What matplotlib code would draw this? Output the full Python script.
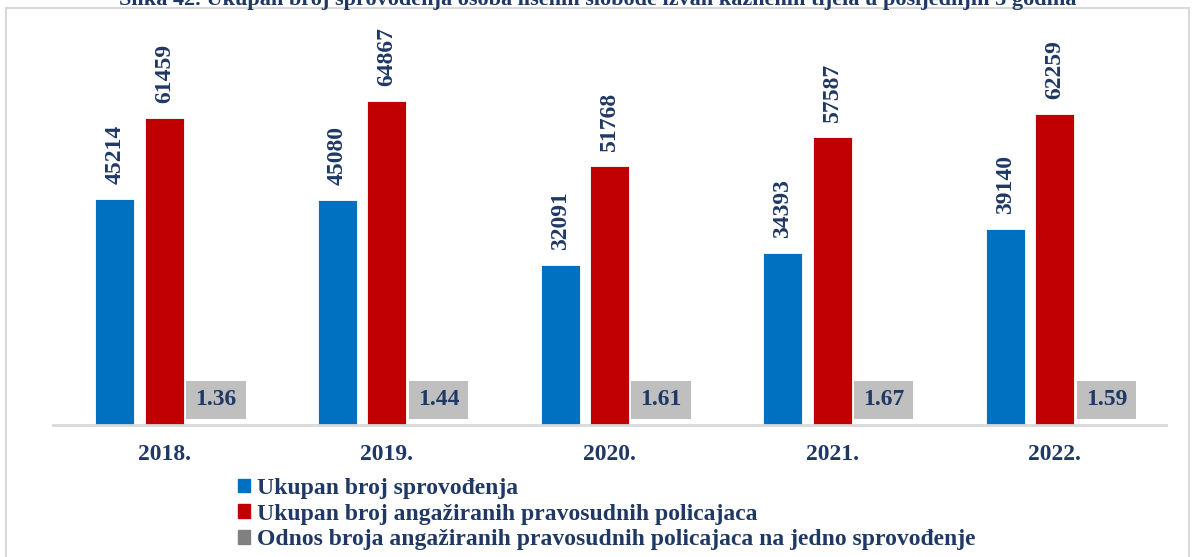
import matplotlib
matplotlib.use('Agg')
import matplotlib.pyplot as plt
import numpy as np
from matplotlib.patches import Rectangle

years = ['2018.', '2019.', '2020.', '2021.', '2022.']
sprovodjenja = [45214, 45080, 32091, 34393, 39140]
policajci = [61459, 64867, 51768, 57587, 62259]
odnos = [1.36, 1.44, 1.61, 1.67, 1.59]

series_names = ['Ukupan broj sprovođenja',
                'Ukupan broj angažiranih pravosudnih policajaca',
                'Odnos broja angažiranih pravosudnih policajaca na jedno sprovođenje']
title = 'Slika 42. Ukupan broj sprovođenja osoba lišenih slobode izvan kaznenih tijela u posljednjih 5 godina'

blue = '#0070C0'
red = '#C00000'
grey = '#808080'
txt = '#1F3864'

plt.rcParams['font.family'] = ['Liberation Serif', 'DejaVu Serif']
plt.rcParams['font.weight'] = 'bold'

W, H = 1195, 557
fig = plt.figure(figsize=(W / 100, H / 100), dpi=100)
ax = fig.add_axes([53 / W, 1 - 425 / H, 1113 / W, 350 / H])

x = np.arange(len(years))
bw = 0.175
off = 0.222

ax.bar(x - off, sprovodjenja, bw, color=blue, edgecolor='white', linewidth=0.6)
ax.bar(x, policajci, bw, color=red, edgecolor='white', linewidth=0.6)
ax.bar(x + off, odnos, bw, color=grey)

for i in range(len(years)):
    ax.text(x[i] - off, sprovodjenja[i] + 3000, str(sprovodjenja[i]), rotation=90,
            ha='center', va='bottom', fontsize=17, color=txt, clip_on=False)
    ax.text(x[i], policajci[i] + 3000, str(policajci[i]), rotation=90,
            ha='center', va='bottom', fontsize=17, color=txt, clip_on=False)
    ax.text(x[i] + off + 0.01, odnos[i] + 5000, f'{odnos[i]:.2f}', ha='center', va='center',
            fontsize=17, color=txt,
            bbox=dict(boxstyle='square,pad=0.38', facecolor='#BFBFBF', edgecolor='none'))

ax.set_xlim(-0.5, len(years) - 0.5)
ax.set_ylim(0, 70000)
ax.set_xticks(x)
ax.set_xticklabels(years, fontsize=17, color=txt)
ax.tick_params(axis='x', length=0, pad=14)
ax.set_yticks([])
for s in ['top', 'right', 'left']:
    ax.spines[s].set_visible(False)
ax.spines['bottom'].set_color('#D9D9D9')
ax.spines['bottom'].set_linewidth(2)

handles = [Rectangle((0, 0), 1, 1, color=c) for c in (blue, red, grey)]
fig.legend(handles, series_names, loc='upper left', bbox_to_anchor=(226 / W, 1 - 466 / H),
           frameon=False, fontsize=17, handlelength=0.5, handleheight=0.5,
           handletextpad=0.3, labelspacing=0.2, borderpad=0, labelcolor=txt)

# outer frame and the heading above it
fig.patches.append(Rectangle((6 / W, -0.05), 1183 / W, 1.05 - 8 / H, transform=fig.transFigure,
                             fill=False, edgecolor='#D9D9D9', linewidth=1.5))
fig.text(0.5, 1 - 5 / H, title, ha='center', va='baseline', fontsize=16, color=txt)

fig.savefig('out.png', dpi=100)
